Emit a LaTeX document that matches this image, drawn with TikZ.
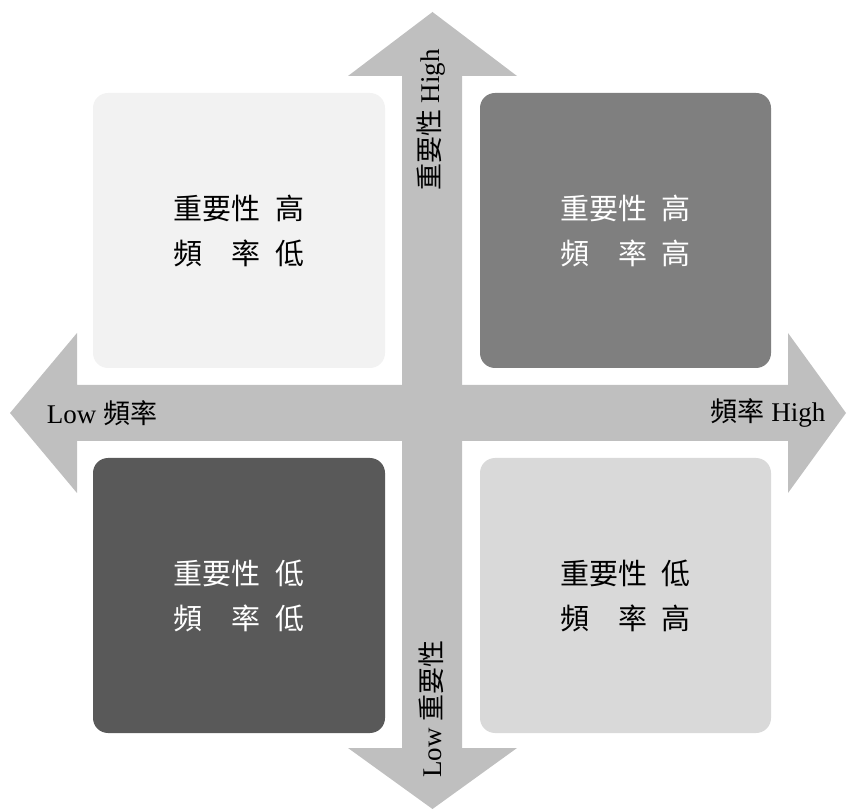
\documentclass[tikz,border=0pt]{standalone}
\usepackage{fontspec}
\setmainfont{Liberation Serif}
\newfontfamily\cjk{Noto Sans CJK TC}
\definecolor{arrowgray}{HTML}{BFBFBF}
\definecolor{boxA}{HTML}{F2F2F2}
\definecolor{boxB}{HTML}{7F7F7F}
\definecolor{boxC}{HTML}{595959}
\definecolor{boxD}{HTML}{D9D9D9}
\tikzset{
  quad/.style={rounded corners=15pt, draw=none},
  quadtext/.style={align=center, font=\fontsize{29}{45}\selectfont\cjk},
  axislabel/.style={font=\fontsize{27}{30}\selectfont, inner sep=0pt},
}
\begin{document}
\begin{tikzpicture}[x=1pt,y=-1pt]
\useasboundingbox (0,0) rectangle (847,810);
% axes arrows
\fill[arrowgray] (402,76) -- (348,76) -- (432.5,12) -- (517,76) -- (462,76)
  -- (462,748) -- (517,748) -- (432.5,809) -- (348,748) -- (402,748) -- cycle;
\fill[arrowgray] (77,385) -- (77,333) -- (10,413) -- (77,493) -- (77,441)
  -- (788,441) -- (788,493) -- (846,413) -- (788,333) -- (788,385) -- cycle;
% quadrants
\fill[quad, boxA] (93,93) rectangle (385,368);
\fill[quad, boxB] (480,93) rectangle (771,368);
\fill[quad, boxC] (93,458) rectangle (385,733);
\fill[quad, boxD] (480,458) rectangle (771,733);
\node[quadtext, text=black] (tl) at (239,231) {重要性\hspace{0.5em}高\\頻\hspace{1em}率\hspace{0.5em}低};
\node[quadtext, text=white] (tr) at (625.5,231) {重要性\hspace{0.5em}高\\頻\hspace{1em}率\hspace{0.5em}高};
\node[quadtext, text=white] (bl) at (239,596) {重要性\hspace{0.5em}低\\頻\hspace{1em}率\hspace{0.5em}低};
\node[quadtext, text=black] (br) at (625.5,596) {重要性\hspace{0.5em}低\\頻\hspace{1em}率\hspace{0.5em}高};
% axis labels
\node[axislabel, rotate=90] (top) at (431,120) {{\cjk 重要性} High};
\node[axislabel, rotate=90] (bot) at (431,709) {Low {\cjk 重要性}};
\node[axislabel] (left) at (102,413) {Low {\cjk 頻率}};
\node[axislabel] (right) at (768,413) {{\cjk 頻率} High};
\end{tikzpicture}
\end{document}
